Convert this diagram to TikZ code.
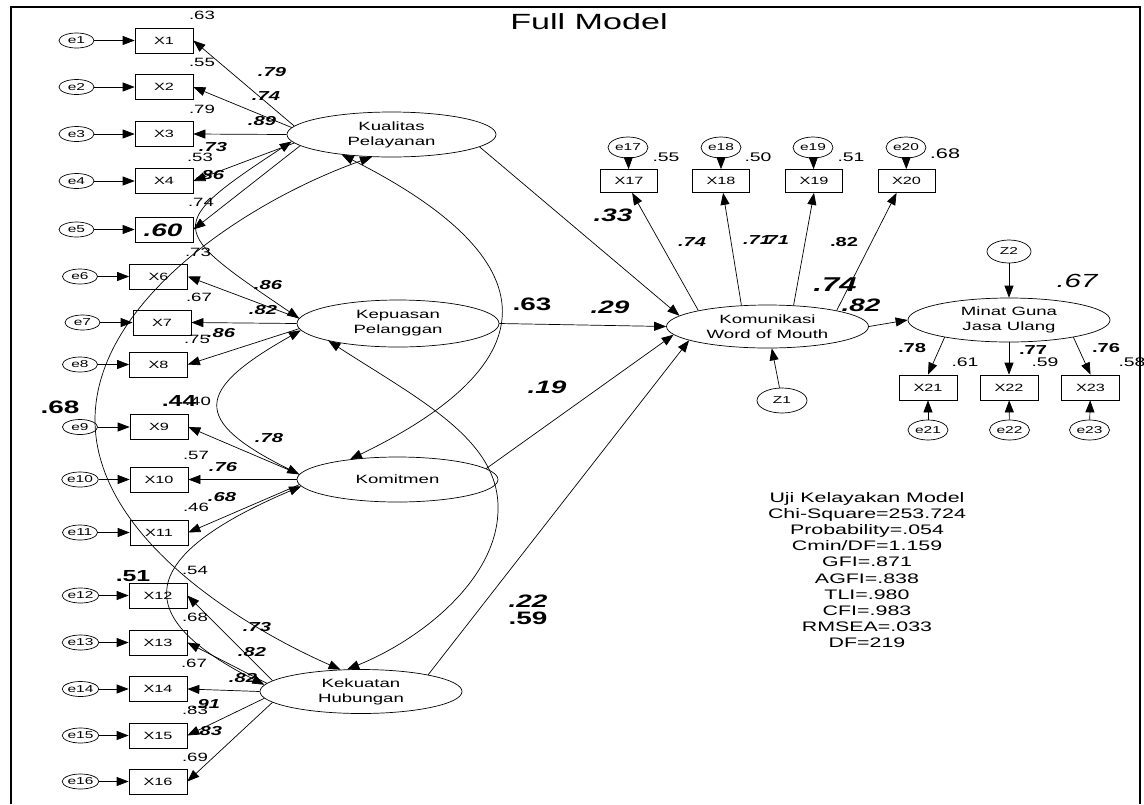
\documentclass[tikz,border=0pt]{standalone}
\usepackage{fontspec}
\setmainfont{Liberation Sans}[FakeStretch=1.55]
\usetikzlibrary{shapes.geometric,arrows.meta}
\newcommand\setfs[2]{\fontsize{#1}{#2}\selectfont}

\begin{document}
\begin{tikzpicture}[x=1pt,y=-1pt,line width=0.7pt,
  lat/.style={draw, ellipse, inner sep=0pt, align=center, font=\setfs{12}{15}},
  obs/.style={draw, rectangle, minimum width=58pt, minimum height=25pt, inner sep=0pt, font=\setfs{10.5}{12}},
  err/.style={draw, ellipse, minimum width=35pt, minimum height=15pt, inner sep=0pt, font=\setfs{10}{12}},
  tip/.tip={Triangle[length=12pt,width=9pt]},
  arr/.style={-tip},
  cov/.style={tip-tip},
  sm/.style={inner sep=0pt, font=\setfs{12}{14}},
  rs/.style={inner sep=0pt, font=\setfs{12.5}{14}},
  bi/.style={inner sep=0pt, font=\setfs{13}{15}\bfseries\itshape},
  bu/.style={inner sep=0pt, font=\setfs{13}{15}\bfseries},
  bb/.style={inner sep=0pt, font=\setfs{18}{20}\bfseries},
  bbi/.style={inner sep=0pt, font=\setfs{18}{20}\bfseries\itshape}]

\useasboundingbox (0,0) rectangle (1144,804);
\fill[white] (0,0) rectangle (1144,804);

% frame and title
\draw[line width=2.2pt] (11,804) -- (11,7) -- (1140,7) -- (1140,804);
\node[anchor=base west, inner sep=0pt, font=\setfs{22}{26}] (title) at (510,29) {Full Model};

% latent variables
\node[lat, minimum width=209pt, minimum height=45pt] (kual) at (391.5,134.5) {Kualitas\\Pelayanan};
\node[lat, minimum width=202pt, minimum height=47pt] (kep) at (398,323.5) {Kepuasan\\Pelanggan};
\node[lat, minimum width=201pt, minimum height=45pt] (kom) at (397.5,479.5) {Komitmen};
\node[lat, minimum width=202pt, minimum height=44pt] (kek) at (361,691.5) {Kekuatan\\Hubungan};
\node[lat, minimum width=202pt, minimum height=43pt] (wom) at (767.5,326.5) {Komunikasi\\Word of Mouth};
\node[lat, minimum width=202pt, minimum height=44pt] (mgj) at (1009,320) {Minat Guna\\Jasa Ulang};
\node[err, minimum width=50pt, minimum height=25pt] (z1) at (782,400.5) {Z1};
\node[err, minimum width=44pt, minimum height=23pt] (z2) at (1009,251.5) {Z2};

% indicators of the exogenous constructs
\foreach \i/\xb/\xe/\y in {1/164/76.5/40.5, 2/164/76.5/87, 3/164/76.5/134, 4/164/76.5/181,
    6/158.5/80/276.5, 7/162/82.5/322.5, 8/158.5/80/364.5,
    9/159/80/427, 10/159/80/479.5, 11/159/80/532.5,
    12/158/80.5/595.5, 13/158/80.5/642.5, 14/158/80.5/689, 15/158/80.5/735.5, 16/158/80.5/781.5}{
  \node[obs] (x\i) at (\xb,\y) {X\i};
  \node[err] (e\i) at (\xe,\y) {e\i};
  \draw[arr] (e\i) -- (x\i);
}
\node[obs] (x5) at (164,229.5) {};
\node[err] (e5) at (76.5,229.5) {e5};
\draw[arr] (e5) -- (x5);

% indicators of Komunikasi Word of Mouth
\foreach \i/\xb/\xe in {17/629/628, 18/721/721, 19/814/813, 20/906.5/906}{
  \node[obs, minimum width=57pt, minimum height=23pt] (x\i) at (\xb,181) {X\i};
  \node[err, minimum width=40pt, minimum height=21pt] (e\i) at (\xe,147.5) {e\i};
  \draw[arr] (e\i) -- (x\i);
}
% indicators of Minat Guna Jasa Ulang
\foreach \i/\xb/\xe in {21/928/928, 22/1009/1009.5, 23/1090.5/1089.5}{
  \node[obs] (x\i) at (\xb,387.5) {X\i};
  \node[err, minimum width=40pt, minimum height=20pt] (e\i) at (\xe,430) {e\i};
  \draw[arr] (e\i) -- (x\i);
}

% loadings
\draw[arr] (kual.175) -- (x1.east);
\draw[arr] (kual.176) -- (x2.east);
\draw[arr] (kual.180) -- (x3.east);
\draw[arr] (kual.185) -- (x4.east);
\draw[arr] (kual.187) -- (x5.east);
\draw[arr] (kep.177) -- (x6.east);
\draw[arr] (kep.180) -- (x7.east);
\draw[arr] (kep.183) -- (x8.east);
\draw[arr] (kom.177) -- (x9.east);
\draw[arr] (kom.180) -- (x10.east);
\draw[arr] (kom.183) -- (x11.east);
\draw[arr] (kek.173) -- (x12.east);
\draw[arr] (kek.175) -- (x13.east);
\draw[arr] (kek.180) -- (x14.east);
\draw[arr] (kek.184) -- (x15.east);
\draw[arr] (kek.187) -- (x16.east);
\draw[arr] (wom.167) -- (x17.-75);
\draw[arr] (wom.141) -- (x18.-80);
\draw[arr] (wom.39) -- (x19.south);
\draw[arr] (wom.13) -- (x20.230);
\draw[arr] (mgj.195) -- (x21.north);
\draw[arr] (mgj.south) -- (x22.north);
\draw[arr] (mgj.345) -- (x23.north);

% structural paths
\draw[arr] (kual.352) -- (wom.173);
\draw[arr] (kep.east) -- (wom.west);
\draw[arr] (kom.7) -- (wom.185);
\draw[arr] (kek.14) -- (wom.190);
\draw[arr] (wom.east) -- (mgj.west);
\draw[arr] (z1) -- (wom);
\draw[arr] (z2) -- (mgj);

% covariances
\coordinate (cl) at (95,420);
\coordinate (cr) at (498,510);
\draw[cov] (kual.184) .. controls (163,226) and (168,229.5) .. (kep.177);
\draw[cov] (kual.202) .. controls (551,260) and (551,362) .. (kom.157);
\draw[cov] (kual.229) .. controls (250,200) and (95,300) .. (cl) .. controls (95,540) and (250,630) .. (kek.133);
\draw[cov] (kep.184) .. controls (195,390) and (190,420) .. (kom.177);
\draw[cov] (kep.194) .. controls (420,400) and (500,440) .. (cr) .. controls (497,580) and (420,640) .. (kek.122);
\draw[cov] (kom.184) .. controls (132,558) and (132,618) .. (kek.176);

% squared multiple correlations, left column
\node[sm] (s1) at (202,15) {.63};
\node[sm] (s2) at (202,62) {.55};
\node[sm] (s3) at (202,109) {.79};
\node[sm] (s4) at (200,157) {.53};
\node[sm] (s5) at (201,202) {.74};
\node[sm] (s6) at (198,252) {.73};
\node[sm] (s7) at (199,297) {.67};
\node[sm] (s8) at (197,339) {.75};
\node[sm] (s9) at (198,401) {.40};
\node[sm] (s10) at (196,455) {.57};
\node[sm] (s11) at (196,507) {.46};
\node[sm] (s12) at (195,570) {.54};
\node[sm] (s13) at (195,617) {.68};
\node[sm] (s14) at (194,663) {.67};
\node[sm] (s15) at (195,710) {.83};
\node[sm] (s16) at (195,757) {.69};

% loading estimates, left column
\node[bi] (b1) at (272,72) {.79};
\node[bi] (b2) at (266,96) {.74};
\node[bi] (b3) at (262,121) {.89};
\node[bi] (b4) at (213,147) {.73};
\node[bi] (b5) at (210,175) {.86};
\node[bi] (b6) at (268,285) {.86};
\node[bi] (b7) at (263,310) {.82};
\node[bi] (b8) at (221,333) {.86};
\node[bi] (b9) at (269,438) {.78};
\node[bi] (b10) at (223,467) {.76};
\node[bi] (b11) at (222,497) {.68};
\node[bi] (b12) at (257,627) {.73};
\node[bi] (b13) at (252,652) {.82};
\node[bi] (b14) at (243,678) {.82};
\node[bi] (b15) at (206,704) {.91};
\node[bi] (b16) at (208,731) {.83};

% large estimates
\node[bbi] (g1) at (163,230) {.60};
\node[bb] (g2) at (60,407) {.68};
\node[bb, font=\setfs{16}{18}\bfseries] (g3) at (179,401) {.44};
\node[bb, font=\setfs{16}{18}\bfseries] (g4) at (133,576) {.51};
\node[bb] (g5) at (532,304) {.63};
\node[bbi] (g6) at (610,307) {.29};
\node[bbi] (g7) at (547,387) {.19};
\node[bbi] (g8) at (528,601) {.22};
\node[bb] (g9) at (528,618) {.59};
\node[bbi] (g10) at (613,215) {.33};
\node[bbi, font=\setfs{20}{22}\bfseries\itshape] (g11) at (835,285) {.74};
\node[bbi] (g12) at (861,305) {.82};

% right-hand estimates
\node[bi] (w1) at (692,242) {.74};
\node[bi] (w2) at (757,240) {.71};
\node[bi] (w3) at (775,240) {.71};
\node[bu] (w4) at (844,242) {.82};
\node[rs] (w5) at (666,157) {.55};
\node[rs] (w6) at (758,157) {.50};
\node[rs] (w7) at (851,157) {.51};
\node[rs, font=\setfs{14}{16}] (w8) at (945,154) {.68};
\node[bu] (w9) at (912,348) {.78};
\node[bu] (w10) at (1033,350) {.77};
\node[bu] (w11) at (1106,348) {.76};
\node[rs] (w12) at (965,362) {.61};
\node[rs] (w13) at (1045,362) {.59};
\node[rs] (w14) at (1132,362) {.58};
\node[inner sep=0pt, font=\setfs{19}{21}\itshape] (w15) at (1077,281) {.67};

% fit statistics
\node[align=center, inner sep=0pt, font=\setfs{13.8}{16.2}] (fit) at (867,570)
  {Uji Kelayakan Model\\Chi-Square=253.724\\Probability=.054\\Cmin/DF=1.159\\GFI=.871\\AGFI=.838\\TLI=.980\\CFI=.983\\RMSEA=.033\\DF=219};
\end{tikzpicture}
\end{document}
